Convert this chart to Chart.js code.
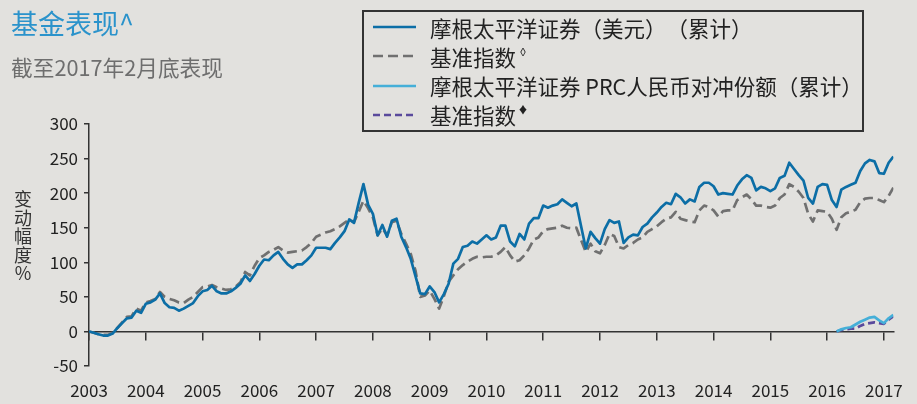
<!DOCTYPE html>
<html>
<head>
<meta charset="utf-8">
<script src="https://cdn.jsdelivr.net/npm/chart.js@4.4.1/dist/chart.umd.min.js"></script>
<style>
  html, body { margin: 0; padding: 0; background: #e2e1de; }
  #wrap { position: relative; width: 917px; height: 404px; font-family: "Noto Sans CJK SC", sans-serif; text-spacing-trim: space-all; }
  #c { position: absolute; left: 0; top: 0; }
  #title { position: absolute; left: 11px; top: 3px; font-size: 27px; color: #2b93cb; white-space: nowrap; }
  #sub { position: absolute; left: 11px; top: 51px; font-size: 21.7px; color: #6e6e6e; white-space: nowrap; }
  #ylab { position: absolute; left: 12px; top: 189px; width: 22px; font-size: 18px; line-height: 18.5px; color: #333; text-align: center; }
  #legend { position: absolute; left: 362px; top: 10px; width: 498px; height: 118px; border: 2px solid #333; }
  .row { position: absolute; left: 0; height: 28px; display: flex; align-items: center; font-size: 21.5px; color: #222; white-space: nowrap; }
  .row svg { margin-left: 9px; margin-right: 14px; }
  .row sup { font-size: 10px; vertical-align: 10px; margin-left: 2px; }
</style>
</head>
<body>
<div id="wrap">
  <canvas id="c" width="917" height="404"></canvas>
  <div id="title">基金表现^</div>
  <div id="sub">截至2017年2月底表现</div>
  <div id="ylab">变<br>动<br>幅<br>度<br>%</div>
  <div id="legend"></div>
</div>
<script>
// monthly cumulative change (%), month-end values from Dec 2002
var startYear = 2003;
var years = [2003, 2004, 2005, 2006, 2007, 2008, 2009, 2010, 2011, 2012, 2013, 2014, 2015, 2016, 2017];
var fund = [0, -2, -4, -6, -6, -3, 5, 12, 19, 20, 30, 27, 40, 42, 46, 55, 41, 35, 34, 30,
  33, 37, 41, 51, 58, 60, 66, 58, 55, 55, 58, 63, 69, 81, 73, 83, 95, 104, 103, 110,
  115, 105, 97, 92, 97, 97, 103, 110, 121, 121, 121, 119, 128, 136, 145, 162, 157, 186, 213, 183,
  170, 139, 154, 137, 160, 163, 137, 122, 105, 80, 55, 54, 65, 57, 42, 54, 69, 98, 105, 122,
  124, 130, 127, 133, 139, 133, 136, 153, 153, 130, 123, 141, 133, 156, 164, 164, 182, 179, 182, 184,
  191, 186, 181, 185, 152, 120, 144, 135, 127, 148, 161, 157, 159, 128, 136, 140, 139, 151, 156, 165,
  172, 180, 186, 184, 199, 194, 185, 191, 188, 209, 215, 215, 210, 198, 200, 199, 198, 211, 220, 226,
  222, 204, 209, 207, 203, 207, 222, 225, 244, 235, 226, 218, 193, 185, 209, 213, 212, 190, 180, 205,
  209, 212, 215, 232, 243, 248, 246, 229, 228, 244, 253];
var bench = [0, -2, -4, -5, -5, -2, 5, 13, 21, 22, 33, 30, 42, 44, 47, 57, 50, 47, 45, 42,
  41, 46, 50, 57, 64, 65, 67, 64, 62, 60, 61, 65, 71, 86, 81, 95, 106, 110, 115, 118,
  122, 117, 114, 115, 116, 117, 122, 128, 137, 140, 143, 145, 148, 152, 157, 162, 158, 173, 189, 178,
  165, 139, 149, 139, 158, 160, 141, 127, 112, 88, 50, 52, 59, 47, 33, 51, 72, 81, 90, 96,
  101, 105, 108, 107, 108, 108, 110, 115, 122, 110, 101, 103, 110, 120, 133, 136, 145, 148, 149, 150,
  153, 150, 149, 150, 132, 115, 127, 116, 113, 125, 141, 138, 122, 120, 125, 128, 133, 136, 144, 148,
  152, 158, 163, 165, 173, 163, 161, 159, 158, 175, 182, 180, 175, 166, 174, 175, 175, 190, 194, 198,
  191, 182, 182, 180, 179, 182, 193, 198, 213, 209, 202, 193, 170, 159, 175, 174, 173, 163, 147, 165,
  171, 173, 176, 187, 192, 193, 193, 190, 187, 196, 208];
// PRC hedged share class, launched Feb 2016 (month 158)
var prcStart = 158;
var prc = [0, 3, 5, 6, 10, 14, 17, 20, 21, 16, 12, 19, 24];
var prcBench = [0, 2, 3, 4, 4, 8, 11, 12, 13, 12, 11, 17, 22];

var legendMarks = ['', '\u25CA', '', '\u2666'];

function toPoints(values, offset) {
  return values.map(function(v, i) { return { x: startYear + (offset + i) / 12, y: v }; });
}

var xMax = startYear + (fund.length - 1) / 12;
function yearTicks(s) { s.ticks = years.map(function(y) { return { value: y }; }); }

Chart.defaults.font.family = '"Noto Sans CJK SC", sans-serif';
Chart.defaults.font.size = 17;
Chart.defaults.color = '#222';

var chart = new Chart('c', {
  type: 'line',
  data: {
    datasets: [
      { label: '摩根太平洋证券（美元）（累计）', data: toPoints(fund, 0), borderColor: '#0c6ea6', borderWidth: 2.7 },
      { label: '基准指数', data: toPoints(bench, 0), borderColor: '#707070', borderWidth: 2.7, borderDash: [10, 5] },
      { label: '摩根太平洋证券 PRC人民币对冲份额（累计）', data: toPoints(prc, prcStart), borderColor: '#45afd8', borderWidth: 2.7 },
      { label: '基准指数', data: toPoints(prcBench, prcStart), borderColor: '#5a4a9c', borderWidth: 2.7, borderDash: [7, 4] }
    ]
  },
  options: {
    responsive: false,
    animation: false,
    layout: { padding: { top: 124, right: 19, left: 0, bottom: 0 } },
    plugins: { legend: { display: false }, tooltip: { enabled: false } },
    elements: { point: { radius: 0 }, line: { tension: 0, borderJoinStyle: 'round' } },
    scales: {
      x: {
        type: 'linear', min: startYear, max: xMax, position: { y: 0 },
        grid: { drawOnChartArea: false, drawTicks: true, tickLength: 8, color: '#333', lineWidth: 1.5 },
        border: { display: true, color: '#333', width: 1.5 },
        ticks: { display: false },
        afterBuildTicks: yearTicks,
        afterFit: function(s) { s.height = 0; }
      },
      x2: {
        type: 'linear', position: 'bottom', min: startYear, max: xMax,
        grid: { display: false, drawTicks: false },
        border: { display: false },
        ticks: { padding: 14, maxRotation: 0, autoSkip: false, callback: function(v) { return String(v); } },
        afterBuildTicks: yearTicks,
        afterFit: function(s) { s.height = 38; }
      },
      y: {
        min: -50, max: 300,
        ticks: { stepSize: 50, padding: 6 },
        grid: { drawOnChartArea: false, tickLength: 5, color: '#333', lineWidth: 1.5 },
        border: { color: '#333', width: 1.5 },
        afterFit: function(s) { s.width = 89; }
      }
    }
  }
});

// legend box built from the datasets
var legend = document.getElementById('legend');
chart.data.datasets.forEach(function(ds, i) {
  var row = document.createElement('div');
  row.className = 'row';
  row.style.top = (1 + i * 29.3) + 'px';
  var dash = ds.borderDash ? ds.borderDash.join(' ') : 'none';
  row.innerHTML = '<svg width="43" height="6"><line x1="0" y1="3" x2="43" y2="3" stroke="' + ds.borderColor +
    '" stroke-width="2.5" stroke-dasharray="' + dash + '"/></svg><span>' + ds.label +
    (legendMarks[i] ? '<sup>' + legendMarks[i] + '</sup>' : '') + '</span>';
  legend.appendChild(row);
});
</script>
</body>
</html>
